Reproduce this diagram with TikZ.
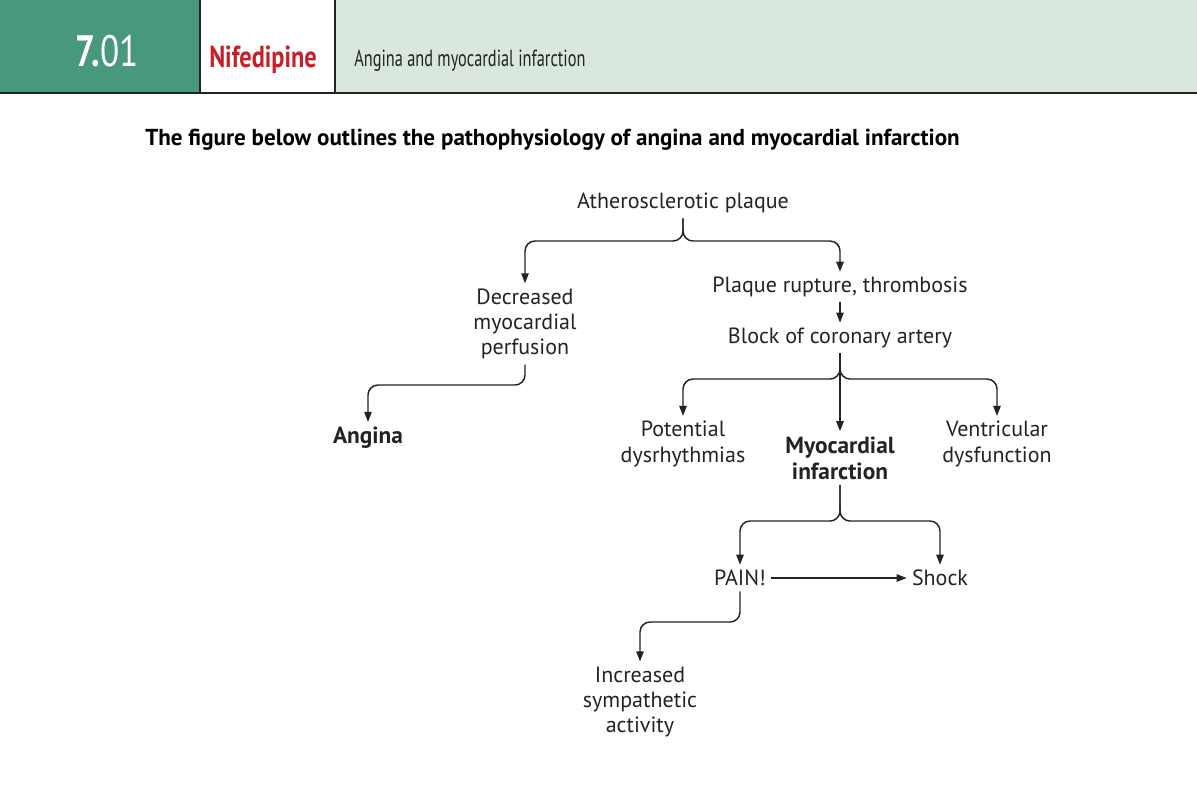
\documentclass[tikz,border=0pt]{standalone}
\usepackage{fontspec}
\setmainfont{PT Sans}
\newfontfamily\condfont[FakeStretch=0.8]{PT Sans}
\newfontfamily\narrowfont[FakeStretch=0.7]{PT Sans}
\usetikzlibrary{arrows.meta}
\definecolor{hdrgreen}{RGB}{72,152,124}
\definecolor{hdrlight}{RGB}{217,231,222}
\definecolor{drugred}{RGB}{200,30,40}
\definecolor{inkgray}{RGB}{35,35,35}

\begin{document}
\begin{tikzpicture}[x=0.75pt,y=-0.75pt,
        lbl/.style={font=\fontsize{16.5}{19}\selectfont,align=center,text=inkgray,inner sep=0pt,outer sep=4pt},
        key/.style={lbl,font=\fontsize{17.5}{19.5}\selectfont\bfseries},
        link/.style={draw=inkgray,line width=1.1pt,-{Triangle[length=7.5pt,width=5.5pt]}},
        brace/.style={link,rounded corners=7.5pt}
    ]
    \useasboundingbox (0,0) rectangle (1197,804);
    \fill[white] (0,0) rectangle (1197,804);
    \fill[hdrgreen] (0,0) rectangle (200,93);
    \fill[hdrlight] (335,0) rectangle (1197,93);
    \draw[inkgray,line width=1.6pt] (200,0) -- (200,93) (335,0) -- (335,93);
    \draw[inkgray,line width=2.2pt] (0,93) -- (1197,93);
    \node[text=white,inner sep=0pt,font=\condfont\fontsize{33}{36}\selectfont] (num) at (107,51) {\textbf{7.}01};
    \node[text=drugred,inner sep=0pt,font=\condfont\bfseries\fontsize{22.8}{26}\selectfont] (drug) at (263,60) {Nifedipine};
    \node[anchor=west,text=inkgray,inner sep=0pt,font=\narrowfont\fontsize{17.5}{20}\selectfont] (topic) at (354,61) {Angina and myocardial infarction};
    \node[anchor=west,text=black,inner sep=0pt,font=\fontsize{17.3}{20}\selectfont\bfseries] (title) at (145,140) {The figure below outlines the pathophysiology of angina and myocardial infarction};

    \node[lbl] (ath) at (683,203) {Atherosclerotic plaque};
    \node[lbl] (dec) at (525,324) {Decreased\\myocardial\\perfusion};
    \node[lbl] (plq) at (840,287) {Plaque rupture, thrombosis};
    \node[lbl] (blk) at (840,338) {Block of coronary artery};
    \node[key] (ang) at (368,438) {Angina};
    \node[lbl] (pot) at (683,444) {Potential\\dysrhythmias};
    \node[key] (myo) at (840,458) {Myocardial\\infarction};
    \node[lbl] (ven) at (997,444) {Ventricular\\dysfunction};
    \node[lbl] (pain) at (740,578) {PAIN!};
    \node[lbl] (shk) at (940,578) {Shock};
    \node[lbl] (inc) at (640,702) {Increased\\sympathetic\\activity};

    \coordinate (j1) at (683,241);
    \coordinate (j2) at (840,379);
    \coordinate (j3) at (840,521);
    \coordinate (j4) at (740,622);
    \coordinate (j5) at (525,385);

    \draw[brace] (ath.south) -- (j1) -| (dec.north);
    \draw[brace] (ath.south) -- (j1) -| (plq.north);
    \draw[link] (plq.south) -- (blk.north);
    \draw[brace] (dec.south) -- (j5) -| (ang.north);
    \draw[brace] (blk.south) -- (j2) -| (pot.north);
    \draw[brace] (blk.south) -- (j2) -| (ven.north);
    \draw[link] (blk.south) -- (myo.north);
    \draw[brace] (myo.south) -- (j3) -| (pain.north);
    \draw[brace] (myo.south) -- (j3) -| (shk.north);
    \draw[link] (pain.east) -- (shk.west);
    \draw[brace] (pain.south) -- (j4) -| (inc.north);
\end{tikzpicture}
\end{document}
